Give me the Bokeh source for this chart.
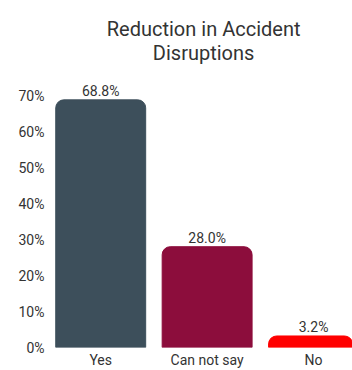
from bokeh.plotting import figure
from bokeh.models import Range1d, FixedTicker, NumeralTickFormatter, Label, ColumnDataSource
from bokeh.core.properties import value
from bokeh.embed import file_html
from bokeh.resources import INLINE

categories = ["Yes", "Can not say", "No"]
values = [0.688, 0.280, 0.032]
colors = ["#3D4F5B", "#8C0D3C", "#FF0000"]
y_ticks = [0.0, 0.1, 0.2, 0.3, 0.4, 0.5, 0.6, 0.7]

idx = list(range(len(categories)))
labels = [f"{v*100:.1f}%" for v in values]
src = ColumnDataSource(dict(x=idx, top=values, color=colors, label=labels))

FONT = "Roboto"
p = figure(width=352, height=370, output_backend="svg", toolbar_location=None,
           x_range=Range1d(-0.5, 2.366), y_range=Range1d(0, 0.964),
           min_border_left=47, min_border_right=0, min_border_top=0, min_border_bottom=23)
p.outline_line_color = None
p.grid.visible = False

p.vbar(x="x", top="top", width=0.845, color="color", source=src,
       border_radius=(8, 8, 0, 0))
p.text(x="x", y="top", text="label", source=src, text_align="center",
       text_baseline="alphabetic", y_offset=-9, text_font=value(FONT),
       text_font_size="14px", text_color="#333333")

p.yaxis.ticker = FixedTicker(ticks=y_ticks)
p.yaxis.formatter = NumeralTickFormatter(format="0%")
p.xaxis.ticker = FixedTicker(ticks=idx)
p.xaxis.major_label_overrides = {i: c for i, c in enumerate(categories)}
for ax in (p.xaxis, p.yaxis):
    ax.axis_line_color = None
    ax.major_tick_line_color = None
    ax.minor_tick_line_color = None
    ax.major_tick_out = 0
    ax.major_tick_in = 0
    ax.minor_tick_out = 0
    ax.minor_tick_in = 0
    ax.major_label_text_font = FONT
    ax.major_label_text_font_size = "14px"
    ax.major_label_text_color = "#333333"
p.yaxis.major_label_standoff = 3
p.xaxis.major_label_standoff = 4

for txt, yy in (("Reduction in Accident", 0.886), ("Disruptions", 0.819)):
    p.add_layout(Label(x=0.967, y=yy, text=txt, text_align="center", text_baseline="middle",
                       text_font=FONT, text_font_size="20px", text_color="#333333"))

open("out.html", "w").write(file_html(p, INLINE))
